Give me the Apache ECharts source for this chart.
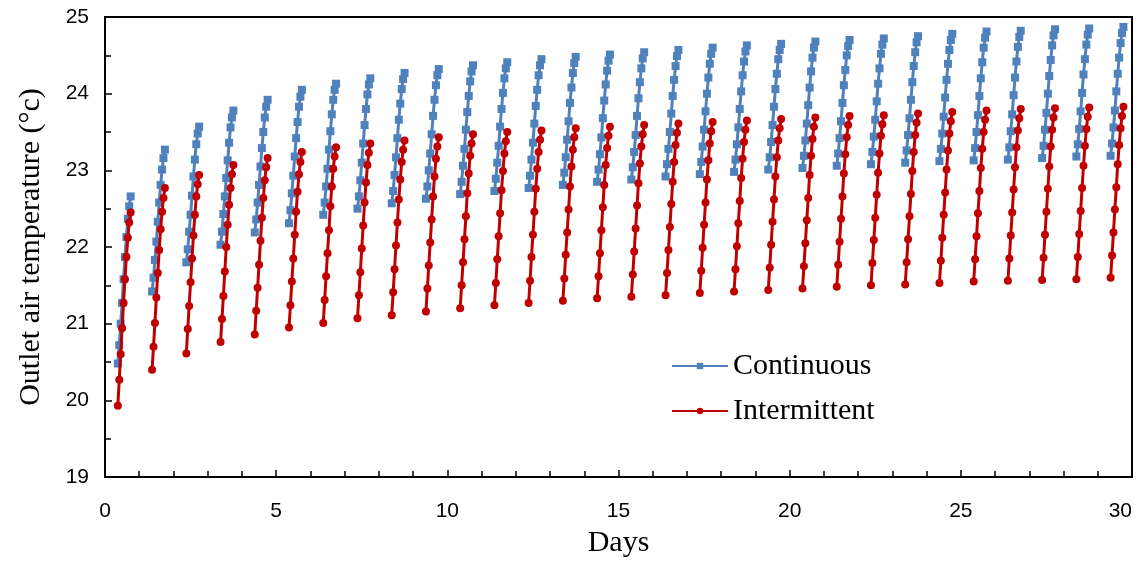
<!DOCTYPE html>
<html>
<head>
<meta charset="utf-8">
<script src="https://cdn.jsdelivr.net/npm/echarts@6/dist/echarts.min.js"></script>
<style>
  html, body { margin: 0; padding: 0; background: #fff; }
  #chart { width: 1140px; height: 562px; }
</style>
</head>
<body>
<div id="chart"></div>
<script>
// hours of the day (fraction of a day) at which each daily reading is taken, 9:00 .. 18:00
var timesOfDay = [0.375, 0.417, 0.458, 0.5, 0.542, 0.583, 0.625, 0.667, 0.708, 0.75];

// continuous operation, one row per day
var continuous = [
    [20.48, 20.72, 21.00, 21.27, 21.58, 21.87, 22.13, 22.37, 22.53, 22.66],
    [21.42, 21.60, 21.83, 22.07, 22.33, 22.58, 22.81, 23.01, 23.16, 23.27],
    [21.80, 21.97, 22.20, 22.42, 22.67, 22.92, 23.14, 23.34, 23.48, 23.57],
    [22.03, 22.20, 22.43, 22.66, 22.90, 23.13, 23.36, 23.56, 23.69, 23.78],
    [22.19, 22.36, 22.58, 22.81, 23.05, 23.29, 23.50, 23.69, 23.83, 23.92],
    [22.31, 22.48, 22.70, 22.93, 23.18, 23.42, 23.63, 23.83, 23.96, 24.05],
    [22.42, 22.58, 22.79, 23.02, 23.27, 23.51, 23.73, 23.92, 24.05, 24.13],
    [22.50, 22.66, 22.87, 23.10, 23.35, 23.59, 23.80, 23.99, 24.12, 24.20],
    [22.57, 22.73, 22.94, 23.17, 23.42, 23.66, 23.87, 24.06, 24.19, 24.27],
    [22.63, 22.79, 23.00, 23.22, 23.47, 23.71, 23.92, 24.11, 24.24, 24.32],
    [22.69, 22.85, 23.06, 23.28, 23.53, 23.76, 23.97, 24.16, 24.29, 24.37],
    [22.73, 22.89, 23.10, 23.32, 23.57, 23.80, 24.01, 24.20, 24.33, 24.41],
    [22.77, 22.93, 23.14, 23.36, 23.61, 23.84, 24.05, 24.24, 24.37, 24.45],
    [22.81, 22.97, 23.17, 23.40, 23.64, 23.88, 24.08, 24.27, 24.40, 24.48],
    [22.85, 23.01, 23.21, 23.43, 23.68, 23.91, 24.12, 24.30, 24.43, 24.51],
    [22.88, 23.04, 23.24, 23.46, 23.71, 23.94, 24.15, 24.33, 24.46, 24.54],
    [22.92, 23.08, 23.28, 23.50, 23.74, 23.97, 24.18, 24.36, 24.49, 24.57],
    [22.95, 23.11, 23.31, 23.53, 23.77, 24.00, 24.21, 24.39, 24.52, 24.60],
    [22.98, 23.14, 23.34, 23.56, 23.80, 24.03, 24.24, 24.42, 24.55, 24.63],
    [23.01, 23.17, 23.37, 23.59, 23.83, 24.06, 24.26, 24.45, 24.57, 24.65],
    [23.03, 23.19, 23.39, 23.61, 23.85, 24.08, 24.29, 24.47, 24.60, 24.68],
    [23.06, 23.22, 23.42, 23.64, 23.88, 24.11, 24.31, 24.50, 24.62, 24.70],
    [23.08, 23.24, 23.44, 23.66, 23.90, 24.13, 24.33, 24.52, 24.64, 24.72],
    [23.10, 23.26, 23.46, 23.68, 23.92, 24.15, 24.36, 24.54, 24.67, 24.75],
    [23.12, 23.28, 23.48, 23.70, 23.95, 24.18, 24.39, 24.57, 24.70, 24.78],
    [23.13, 23.29, 23.50, 23.72, 23.97, 24.20, 24.41, 24.60, 24.73, 24.81],
    [23.14, 23.30, 23.51, 23.73, 23.98, 24.21, 24.42, 24.61, 24.74, 24.82],
    [23.16, 23.32, 23.53, 23.75, 24.00, 24.23, 24.44, 24.63, 24.76, 24.84],
    [23.18, 23.34, 23.54, 23.77, 24.01, 24.25, 24.45, 24.64, 24.77, 24.85],
    [23.19, 23.35, 23.56, 23.78, 24.03, 24.26, 24.47, 24.66, 24.79, 24.87]
];

// intermittent operation, one row per day
var intermittent = [
    [19.93, 20.27, 20.60, 20.94, 21.27, 21.58, 21.87, 22.12, 22.32, 22.45],
    [20.40, 20.70, 21.01, 21.34, 21.66, 21.96, 22.23, 22.46, 22.64, 22.77],
    [20.61, 20.93, 21.23, 21.54, 21.85, 22.15, 22.42, 22.66, 22.82, 22.94],
    [20.76, 21.06, 21.36, 21.68, 22.00, 22.29, 22.55, 22.77, 22.95, 23.07],
    [20.86, 21.17, 21.47, 21.77, 22.08, 22.38, 22.64, 22.87, 23.04, 23.16],
    [20.95, 21.24, 21.55, 21.85, 22.16, 22.46, 22.72, 22.95, 23.11, 23.24],
    [21.01, 21.31, 21.62, 21.92, 22.22, 22.53, 22.79, 23.02, 23.18, 23.30],
    [21.07, 21.37, 21.67, 21.98, 22.28, 22.58, 22.84, 23.07, 23.23, 23.35],
    [21.11, 21.41, 21.71, 22.02, 22.32, 22.62, 22.88, 23.11, 23.27, 23.39],
    [21.16, 21.46, 21.76, 22.06, 22.36, 22.66, 22.92, 23.15, 23.31, 23.43],
    [21.20, 21.50, 21.80, 22.10, 22.40, 22.70, 22.96, 23.19, 23.35, 23.47],
    [21.24, 21.53, 21.84, 22.14, 22.44, 22.74, 22.99, 23.22, 23.38, 23.50],
    [21.27, 21.56, 21.87, 22.16, 22.46, 22.76, 23.02, 23.24, 23.40, 23.52],
    [21.30, 21.59, 21.90, 22.19, 22.49, 22.79, 23.05, 23.27, 23.43, 23.55],
    [21.33, 21.62, 21.92, 22.22, 22.52, 22.81, 23.07, 23.29, 23.45, 23.57],
    [21.35, 21.64, 21.94, 22.24, 22.54, 22.83, 23.09, 23.31, 23.47, 23.59],
    [21.37, 21.66, 21.96, 22.26, 22.56, 22.85, 23.11, 23.33, 23.49, 23.61],
    [21.40, 21.69, 21.99, 22.29, 22.58, 22.88, 23.13, 23.35, 23.51, 23.63],
    [21.42, 21.71, 22.01, 22.31, 22.60, 22.90, 23.15, 23.37, 23.53, 23.65],
    [21.44, 21.73, 22.03, 22.33, 22.62, 22.92, 23.17, 23.39, 23.55, 23.67],
    [21.46, 21.75, 22.05, 22.35, 22.64, 22.94, 23.19, 23.41, 23.57, 23.69],
    [21.48, 21.77, 22.07, 22.37, 22.66, 22.96, 23.21, 23.43, 23.59, 23.71],
    [21.50, 21.79, 22.09, 22.38, 22.68, 22.97, 23.22, 23.45, 23.60, 23.72],
    [21.51, 21.80, 22.10, 22.40, 22.69, 22.99, 23.24, 23.46, 23.62, 23.74],
    [21.53, 21.82, 22.12, 22.42, 22.71, 23.01, 23.26, 23.48, 23.64, 23.76],
    [21.55, 21.84, 22.14, 22.44, 22.73, 23.03, 23.28, 23.50, 23.66, 23.78],
    [21.56, 21.85, 22.15, 22.45, 22.75, 23.04, 23.30, 23.52, 23.68, 23.80],
    [21.57, 21.86, 22.16, 22.46, 22.76, 23.05, 23.31, 23.53, 23.69, 23.81],
    [21.58, 21.87, 22.17, 22.47, 22.77, 23.06, 23.32, 23.54, 23.70, 23.82],
    [21.60, 21.89, 22.19, 22.49, 22.78, 23.08, 23.33, 23.55, 23.71, 23.83]
];

var seriesNames = ['Continuous', 'Intermittent'];
var xTicks = [0, 5, 10, 15, 20, 25, 30];
var yTicks = [19, 20, 21, 22, 23, 24, 25];

// one line per series, broken between days
function toPoints(rows) {
    var pts = [];
    rows.forEach(function (row, day) {
        row.forEach(function (v, i) {
            pts.push([day + timesOfDay[i], v]);
        });
        pts.push([day + 0.9, '-']);
    });
    return pts;
}

var chart = echarts.init(document.getElementById('chart'));
var labelFont = '"Liberation Sans Narrow", "Liberation Sans", sans-serif';
var serifFont = '"Liberation Serif", "Times New Roman", serif';

chart.setOption({
    animation: false,
    grid: {
        left: 105, right: 8, top: 17, bottom: 85,
        show: true, borderColor: '#000', borderWidth: 2,
        containLabel: false,
        outerBoundsMode: 'none'
    },
    legend: {
        orient: 'vertical',
        left: 666, top: 346,
        itemWidth: 56, itemHeight: 8, itemGap: 15,
        textStyle: { fontFamily: serifFont, fontSize: 30, color: '#000' },
        data: seriesNames
    },
    xAxis: {
        type: 'value',
        min: xTicks[0], max: xTicks[xTicks.length - 1], interval: 5,
        name: 'Days', nameLocation: 'middle', nameGap: 51,
        nameTextStyle: { fontFamily: serifFont, fontSize: 30, color: '#000' },
        axisLine: { lineStyle: { color: '#000', width: 2 } },
        axisTick: { inside: true, length: 7, lineStyle: { color: '#000', width: 1.5 } },
        minorTick: { show: true, splitNumber: 5, length: 6, lineStyle: { color: '#000', width: 1.5 } },
        splitLine: { show: false },
        axisLabel: { margin: 24, fontFamily: labelFont, fontSize: 21, color: '#000', alignMaxLabel: 'right' }
    },
    yAxis: {
        type: 'value',
        min: yTicks[0], max: yTicks[yTicks.length - 1], interval: 1,
        name: 'Outlet air temperature (°c)', nameLocation: 'middle', nameGap: 59,
        nameTextStyle: { fontFamily: serifFont, fontSize: 30, color: '#000' },
        axisLine: { lineStyle: { color: '#000', width: 2 } },
        axisTick: { inside: true, length: 7, lineStyle: { color: '#000', width: 1.5 } },
        minorTick: { show: true, splitNumber: 2, length: 6, lineStyle: { color: '#000', width: 1.5 } },
        splitLine: { show: false },
        axisLabel: { margin: 16, fontFamily: labelFont, fontSize: 21, color: '#000' }
    },
    series: [
        {
            name: seriesNames[0],
            type: 'line',
            data: toPoints(continuous),
            connectNulls: false,
            symbol: 'rect', symbolSize: 8,
            color: '#4F81BD',
            lineStyle: { width: 3, color: '#4F81BD' },
            itemStyle: { color: '#4F81BD' },
            z: 2
        },
        {
            name: seriesNames[1],
            type: 'line',
            data: toPoints(intermittent),
            connectNulls: false,
            symbol: 'circle', symbolSize: 8,
            color: '#C00000',
            lineStyle: { width: 3, color: '#C00000' },
            itemStyle: { color: '#C00000' },
            z: 3
        }
    ]
});
</script>
</body>
</html>
